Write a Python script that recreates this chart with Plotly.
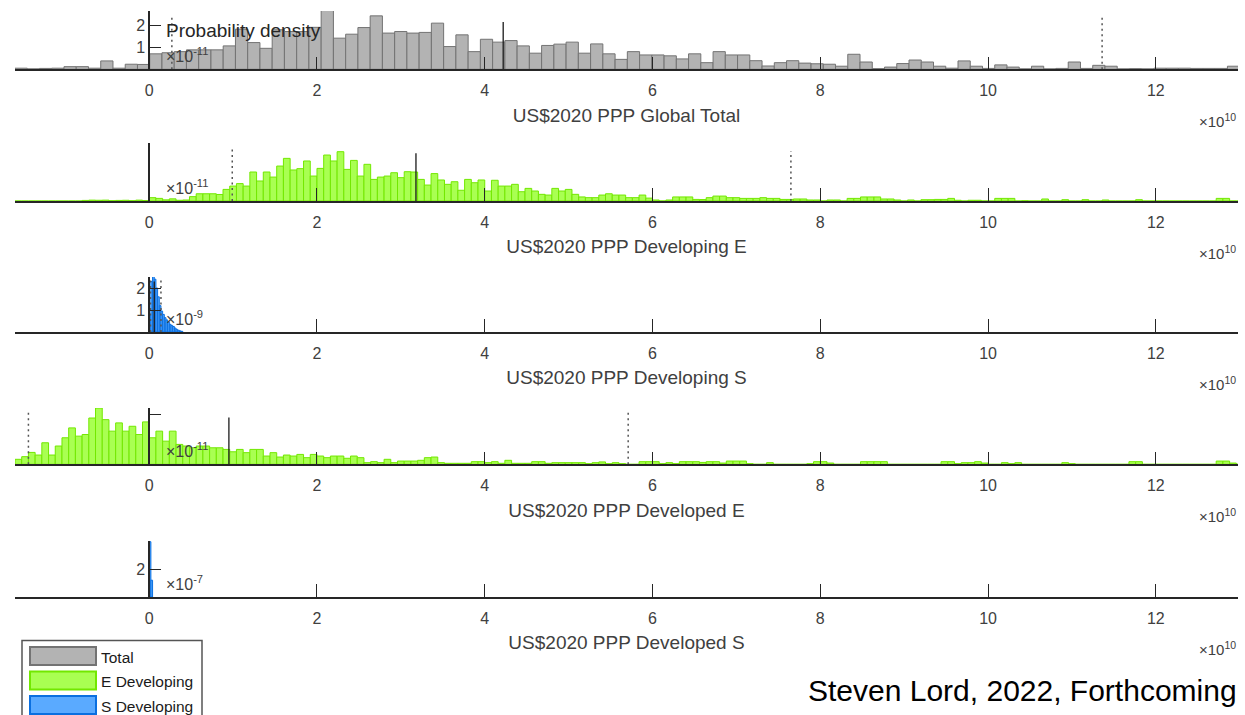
import numpy as np
import plotly.graph_objects as go

# ---------------------------------------------------------------- data
X_RANGE = [-1.6, 12.98]                      # ×1e10 US$2020 PPP
X_TICKS = [0, 2, 4, 6, 8, 10, 12]
X_TICK_TEXT = ["0", "2", "4", "6", "8", "10", "12"]

# Global total: probability density (×1e-11), bins of 0.146e10 from -1.6e10
total_start, total_width = -1.6, 0.146
total_density = [
    0.05, 0.02, 0.04, 0.05, 0.12, 0.12, 0.05, 0.38, 0.05, 0.23, 0.22,
    0.70, 0.75, 0.80, 0.88, 0.88, 0.88, 1.06, 1.82, 1.21, 0.95, 1.79,
    1.71, 1.71, 1.90, 2.70, 1.41, 1.59, 1.89, 2.42, 1.64, 1.71, 1.64,
    1.67, 2.09, 1.03, 1.56, 0.80, 1.36, 1.23, 1.30, 1.06, 0.73, 1.08,
    1.14, 1.23, 0.73, 1.15, 0.70, 0.45, 0.80, 0.65, 0.65, 0.61, 0.47,
    0.70, 0.30, 0.80, 0.65, 0.65, 0.39, 0.15, 0.30, 0.39, 0.28, 0.25,
    0.23, 0.14, 0.68, 0.33, 0.03, 0.10, 0.26, 0.42, 0.33, 0.14, 0.05,
    0.38, 0.14, 0.04, 0.20, 0.10, 0.02, 0.14, 0.02, 0.04, 0.33, 0.04,
    0.18, 0.14, 0.02, 0.03, 0.02, 0.05, 0.05, 0.05, 0.04, 0.04, 0.04,
    0.14,
]

# Developing E: density, bins of 0.08e10 from -1.6e10
dev_e_start, dev_e_width = -1.6, 0.08
dev_e_density = (
    [0.0] * 10
    + [0.04, 0.06, 0.05, 0.06, 0.02, 0.04, 0.05, 0.02, 0.06, 0.03]
    + [0.23, 0.18, 0.08, 0.15, 0.05, 0.07, 0.30, 0.50, 0.50, 0.50, 0.45]
    + [0.80, 1.03, 1.20, 1.03, 2.00, 1.38, 2.00, 1.65, 2.41, 2.94,
       2.14, 2.23, 2.76, 1.72, 2.25, 3.17, 2.76, 3.40, 2.18, 2.80,
       1.72, 2.53, 1.49, 1.65, 1.72, 1.95, 1.61, 2.02, 2.00, 1.49,
       1.10, 1.89, 1.45, 1.15, 1.33, 0.74, 1.49, 1.26, 1.45, 0.69,
       1.43, 1.03, 1.03, 1.15, 0.64, 0.87, 0.69, 0.46, 0.41, 0.87, 0.69]
    + [0.80, 0.46, 0.28, 0.23, 0.23, 0.41, 0.50, 0.41, 0.41, 0.23,
       0.23, 0.41, 0.20, 0.07, 0.00, 0.07, 0.28, 0.28, 0.28, 0.11,
       0.10, 0.23, 0.34, 0.34, 0.23, 0.23, 0.18, 0.18, 0.18, 0.23,
       0.18, 0.18, 0.11, 0.11, 0.14, 0.14, 0.07, 0.07, 0.00, 0.07,
       0.07, 0.00, 0.18, 0.18, 0.28, 0.28, 0.28, 0.14, 0.14, 0.07,
       0.00, 0.07, 0.00, 0.09, 0.09, 0.11, 0.11, 0.18, 0.05, 0.00,
       0.05, 0.05, 0.00, 0.00, 0.18, 0.18, 0.18, 0.00, 0.02, 0.00,
       0.00, 0.14, 0.00, 0.00, 0.09, 0.00, 0.00, 0.09, 0.00, 0.00,
       0.07, 0.00, 0.00, 0.00, 0.00, 0.09, 0.00]
    + [0.0] * 10
    + [0.18, 0.18, 0.00, 0.00]
)

# Developing S: density (×1e-9), bins of 0.02e10 from 0
dev_s_start, dev_s_width = 0.0, 0.02
dev_s_density = [0.80, 2.30, 2.60, 2.40, 2.00, 1.60, 1.20, 0.95, 0.80, 0.65,
                 0.55, 0.45, 0.35, 0.30, 0.25, 0.18, 0.12, 0.08, 0.05, 0.03]

# Developed E: density, bins of 0.08e10 from -1.6e10
dvd_e_start, dvd_e_width = -1.6, 0.08
dvd_e_density = (
    [0.40, 0.61, 0.95, 0.74, 1.72, 0.74, 1.46, 2.12, 2.91, 2.25,
     2.38, 3.70, 4.50, 3.57, 2.65, 3.31, 2.65, 3.04, 2.38, 3.39]
    + [2.12, 2.65, 1.85, 2.65, 1.59, 1.46, 1.32, 1.46, 1.46, 1.32,
       1.32, 1.19, 1.00, 1.19, 0.93, 1.19, 1.19, 0.66, 0.93, 0.58,
       0.74, 0.66, 0.79, 0.53, 0.79, 0.66, 0.53, 0.66, 0.66, 0.48,
       0.66, 0.53, 0.13, 0.21, 0.13, 0.40, 0.13, 0.26, 0.26, 0.26,
       0.32, 0.53, 0.58, 0.13, 0.08, 0.08, 0.08, 0.08, 0.21, 0.21,
       0.13, 0.21, 0.08, 0.32, 0.08, 0.08, 0.08, 0.21, 0.21, 0.08,
       0.13, 0.13, 0.13, 0.13, 0.13, 0.05]
    + [0.13, 0.19, 0.05, 0.13, 0.05, 0.00, 0.00, 0.21, 0.21, 0.21,
       0.05, 0.13, 0.05, 0.21, 0.21, 0.21, 0.15, 0.21, 0.21, 0.10,
       0.26, 0.26, 0.26, 0.05, 0.00, 0.00, 0.13, 0.00, 0.00, 0.00,
       0.00, 0.00, 0.05, 0.21, 0.21, 0.10, 0.00, 0.00, 0.00, 0.00,
       0.21, 0.21, 0.21, 0.21, 0.00, 0.00, 0.00, 0.00, 0.00, 0.00,
       0.00, 0.00, 0.21, 0.21, 0.05, 0.13, 0.13, 0.21, 0.10, 0.00,
       0.00, 0.13, 0.05, 0.13, 0.00, 0.00, 0.00, 0.00, 0.00, 0.00,
       0.13, 0.05, 0.00, 0.00, 0.00, 0.00, 0.00, 0.00, 0.00, 0.00,
       0.21, 0.21]
    + [0.0] * 11
    + [0.26, 0.26, 0.10, 0.00]
)

# Developed S: density (×1e-7), bins of 0.02e10 from 0
dvd_s_start, dvd_s_width = 0.0, 0.02
dvd_s_density = [3.95, 1.20]

# Summary markers per panel: x (×1e10), line height, dotted?
total_marks = [(0.27, 2.45, True), (4.22, 2.14, False), (11.36, 2.45, True)]
dev_e_marks = [(0.99, 3.72, True), (3.18, 3.30, False), (7.65, 3.45, True)]
dev_s_marks = [(0.015, 2.45, True), (0.06, 2.30, False), (0.14, 2.45, True)]
dvd_e_marks = [(-1.44, 4.30, True), (0.95, 3.75, False), (5.71, 4.30, True)]
dvd_s_marks = []

titles = ["US$2020 PPP Global Total", "US$2020 PPP Developing E",
          "US$2020 PPP Developing S", "US$2020 PPP Developed E",
          "US$2020 PPP Developed S"]
y_exponents = ["-11", "-11", "-9", "-11", "-7"]
y_ranges = [[0, 2.64], [0, 4.0], [0, 2.5], [0, 4.5], [0, 4.0]]
y_tickvals = [[1, 2], [4], [1, 2], [4], [2, 4]]
y_ticktext = [["1", "2"], [""], ["1", "2"], [""], ["2", ""]]

legend_labels = ["Total", "E Developing", "S Developing"]

# ---------------------------------------------------------------- styling
W, H = 1245, 715
FONT = "Liberation Sans, Arial, Helvetica, sans-serif"
AX = "#262626"
TXT = "#404040"

GRAY = ("#b3b3b3", "#737373")
GREEN = ("#a9ff52", "#72e800")
BLUE = ("#5aaaff", "#0a6fe0")

series = [
    (total_start, total_width, total_density, GRAY, total_marks),
    (dev_e_start, dev_e_width, dev_e_density, GREEN, dev_e_marks),
    (dev_s_start, dev_s_width, dev_s_density, BLUE, dev_s_marks),
    (dvd_e_start, dvd_e_width, dvd_e_density, GREEN, dvd_e_marks),
    (dvd_s_start, dvd_s_width, dvd_s_density, BLUE, dvd_s_marks),
]

# panel vertical extents in pixels from the top (top, baseline)
panel_px = [(11, 69.3), (143, 201), (277, 332), (408, 464.3), (541, 597)]

L_MARGIN, R_MARGIN = 15, 7
plot_w = W - L_MARGIN - R_MARGIN


def px_x(x):
    return (x - L_MARGIN) / plot_w


def px_y(y):
    return 1 - y / H


zero_pos = (0 - X_RANGE[0]) / (X_RANGE[1] - X_RANGE[0])

fig = go.Figure()
layout = dict(
    width=W, height=H,
    margin=dict(l=L_MARGIN, r=R_MARGIN, t=0, b=0, autoexpand=False),
    paper_bgcolor="white", plot_bgcolor="white",
    showlegend=False,
    font=dict(family=FONT, color=TXT),
)

annotations = []
shapes = []

for i, (start, width, dens, (fill, edge), marks) in enumerate(series):
    n = i + 1
    xa = "x" if n == 1 else f"x{n}"
    ya = "y" if n == 1 else f"y{n}"
    centers = start + width * (np.arange(len(dens)) + 0.5)
    fig.add_trace(go.Bar(
        x=centers, y=dens, width=width, xaxis=xa, yaxis=ya,
        marker=dict(color=fill, line=dict(color=edge, width=1)),
        hoverinfo="skip",
    ))
    for mx, mh, dotted in marks:
        fig.add_trace(go.Scatter(
            x=[mx, mx], y=[0, mh], xaxis=xa, yaxis=ya, mode="lines",
            line=dict(color="#555555" if dotted else "#1a1a1a",
                      width=1.5 if dotted else 1.3,
                      dash="2px,3.5px" if dotted else "solid"),
            hoverinfo="skip",
        ))

    top, base = panel_px[i]
    layout[f"xaxis{'' if n == 1 else n}"] = dict(
        domain=[0, 1], range=X_RANGE, anchor=ya,
        showline=True, linecolor=AX, linewidth=1.6,
        ticks="inside", ticklen=13, tickwidth=1.3, tickcolor=AX,
        tickvals=X_TICKS, ticktext=X_TICK_TEXT,
        tickfont=dict(size=16, color=TXT, family=FONT),
        ticklabelstandoff=6,
        showgrid=False, zeroline=False, fixedrange=True,
        title=dict(text=titles[i], standoff=10,
                   font=dict(size=19, color=TXT, family=FONT)),
    )
    layout[f"yaxis{'' if n == 1 else n}"] = dict(
        domain=[px_y(base), px_y(top)], range=y_ranges[i],
        anchor="free", position=zero_pos, side="left",
        showline=True, linecolor=AX, linewidth=1.6,
        ticks="inside", ticklen=11, tickwidth=1.3, tickcolor=AX,
        tickvals=y_tickvals[i], ticktext=y_ticktext[i],
        tickfont=dict(size=16, color=TXT, family=FONT),
        showgrid=False, zeroline=False, fixedrange=True,
    )

    # exponent labels
    annotations.append(dict(
        xref="paper", yref="paper", x=px_x(164), y=px_y(base - 14),
        xanchor="left", yanchor="middle", showarrow=False,
        text=f"×10<sup>{y_exponents[i]}</sup>",
        font=dict(size=16, color=TXT, family=FONT),
    ))
    annotations.append(dict(
        xref="paper", yref="paper", x=px_x(1238), y=px_y(base + 51),
        xanchor="right", yanchor="middle", showarrow=False,
        text="×10<sup>10</sup>",
        font=dict(size=15, color=TXT, family=FONT),
    ))

annotations.append(dict(
    xref="paper", yref="paper", x=px_x(164), y=px_y(30),
    xanchor="left", yanchor="middle", showarrow=False,
    text="Probability density", font=dict(size=19, color="#262626", family=FONT),
))

# credit line in the lower right corner
annotations.append(dict(
    xref="paper", yref="paper", x=px_x(806), y=px_y(690),
    xanchor="left", yanchor="middle", showarrow=False,
    text="Steven Lord, 2022, Forthcoming",
    font=dict(size=30, color="#000000", family=FONT),
))

# legend box
shapes.append(dict(
    type="rect", xref="paper", yref="paper",
    x0=px_x(22), x1=px_x(202), y0=px_y(760), y1=px_y(640.5),
    line=dict(color="#555555", width=1.5), fillcolor="white",
))
for j, (label, (fill, edge)) in enumerate(zip(legend_labels, [GRAY, GREEN, BLUE])):
    y_top = 647 + 24.5 * j
    shapes.append(dict(
        type="rect", xref="paper", yref="paper",
        x0=px_x(30), x1=px_x(96), y0=px_y(y_top + 18), y1=px_y(y_top),
        line=dict(color=edge, width=2), fillcolor=fill,
    ))
    annotations.append(dict(
        xref="paper", yref="paper", x=px_x(99), y=px_y(y_top + 10),
        xanchor="left", yanchor="middle", showarrow=False,
        text=label, font=dict(size=15.5, color="#1a1a1a", family=FONT),
    ))

layout["annotations"] = annotations
layout["shapes"] = shapes
fig.update_layout(**layout)

fig.write_html("out.html")
